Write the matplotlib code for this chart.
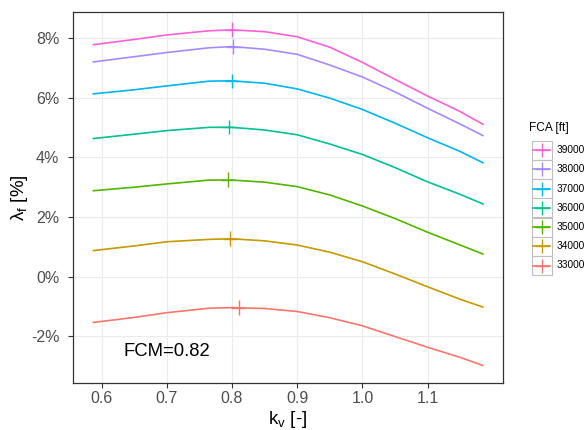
import matplotlib
matplotlib.use("Agg")
import matplotlib.pyplot as plt
from matplotlib.patches import Rectangle

plt.rcParams['font.family'] = ['Liberation Sans', 'DejaVu Sans']
plt.rcParams['mathtext.fontset'] = 'custom'
plt.rcParams['mathtext.rm'] = 'Liberation Sans'
plt.rcParams['mathtext.it'] = 'Liberation Sans:italic'

# ---- data ----
kv = [0.586, 0.65, 0.7, 0.765, 0.8, 0.85, 0.9, 0.95, 1.0, 1.05, 1.1, 1.15, 1.186]
fca_levels = ["33000", "34000", "35000", "36000", "37000", "38000", "39000"]
lam_33000 = [-1.54, -1.37, -1.21, -1.06, -1.04, -1.07, -1.17, -1.38, -1.65, -2.01, -2.37, -2.71, -2.99]
lam_34000 = [0.87, 1.03, 1.17, 1.25, 1.27, 1.20, 1.06, 0.82, 0.50, 0.09, -0.34, -0.76, -1.03]
lam_35000 = [2.88, 3.00, 3.11, 3.24, 3.24, 3.17, 3.02, 2.74, 2.37, 1.95, 1.49, 1.06, 0.75]
lam_36000 = [4.63, 4.78, 4.90, 5.01, 5.01, 4.92, 4.76, 4.45, 4.10, 3.66, 3.18, 2.76, 2.43]
lam_37000 = [6.13, 6.27, 6.40, 6.56, 6.57, 6.49, 6.30, 5.99, 5.61, 5.15, 4.66, 4.20, 3.81]
lam_38000 = [7.20, 7.38, 7.52, 7.68, 7.72, 7.63, 7.46, 7.10, 6.70, 6.20, 5.65, 5.12, 4.72]
lam_39000 = [7.78, 7.96, 8.11, 8.25, 8.28, 8.22, 8.05, 7.70, 7.19, 6.62, 6.06, 5.54, 5.10]
series = [lam_33000, lam_34000, lam_35000, lam_36000, lam_37000, lam_38000, lam_39000]
opt_kv = [0.81, 0.797, 0.794, 0.796, 0.80, 0.802, 0.80]
opt_lam = [-1.04, 1.27, 3.25, 5.02, 6.57, 7.72, 8.29]
colors = ["#F8766D", "#C49A00", "#53B400", "#00C094", "#00B6EB", "#A58AFF", "#FB61D7"]
xticks = [0.6, 0.7, 0.8, 0.9, 1.0, 1.1]
xtick_labels = ["0.6", "0.7", "0.8", "0.9", "1.0", "1.1"]
yticks = [-2, 0, 2, 4, 6, 8]
ytick_labels = ["-2%", "0%", "2%", "4%", "6%", "8%"]
annot_text = "FCM=0.82"

W, H = 587, 430
fig = plt.figure(figsize=(W / 100, H / 100), dpi=100)
L, R, T, B = 73, 503, 12, 383
ax = fig.add_axes([L / W, 1 - B / H, (R - L) / W, (B - T) / H])

for ys, c in zip(series, colors):
    ax.plot(kv, ys, color=c, lw=1.2, solid_capstyle='butt', solid_joinstyle='round', zorder=3)
ax.scatter(opt_kv, opt_lam, marker='+', s=110, c=colors, linewidths=1.0, zorder=4)

ax.set_xlim(0.556, 1.2157)
ax.set_ylim(-3.57, 8.88)
ax.set_xticks(xticks)
ax.set_xticklabels(xtick_labels)
ax.set_yticks(yticks)
ax.set_yticklabels(ytick_labels)
ax.grid(True, color='#EBEBEB', lw=0.8, zorder=0)
ax.set_axisbelow(True)
for s in ax.spines.values():
    s.set_color('#333333')
    s.set_linewidth(0.9)
ax.tick_params(axis='both', colors='#333333', length=3.4, width=0.8,
               labelsize=11.5, labelcolor='#4D4D4D')
ax.tick_params(axis='x', pad=2.5)
ax.tick_params(axis='y', pad=6.5)
ax.set_xlabel(r'k$_\mathrm{v}$ [-]', fontsize=13.5, labelpad=2)
ax.set_ylabel('λ$_\\mathrm{f}$ [%]', fontsize=13.5, labelpad=0.5)
ax.text(0.7, -2.5, annot_text, fontsize=13.3, ha='center', va='center', color='black')

# ---- legend drawn in pixel coordinates ----
ov = fig.add_axes([0, 0, 1, 1], facecolor='none')
ov.set_xlim(0, W)
ov.set_ylim(H, 0)
ov.axis('off')
ov.text(529, 127.5, "FCA [ft]", fontsize=8.6, ha='left', va='center')
kx0, kw, ky0, kh = 531.5, 20.0, 140.7, 19.2
for i, idx in enumerate(range(len(fca_levels) - 1, -1, -1)):
    y0 = ky0 + i * kh
    ov.add_patch(Rectangle((kx0, y0), kw, kh, facecolor='white', edgecolor='#BEBEBE', lw=0.8))
    cy = y0 + kh / 2
    ov.plot([kx0 + 1.5, kx0 + kw - 1.5], [cy, cy], color=colors[idx], lw=1.2)
    ov.plot([kx0 + kw / 2], [cy], marker='+', ms=10, mew=1.0, color=colors[idx])
    ov.text(557, cy, fca_levels[idx], fontsize=7.3, ha='left', va='center', color='black')

fig.savefig("out.png", dpi=100)
